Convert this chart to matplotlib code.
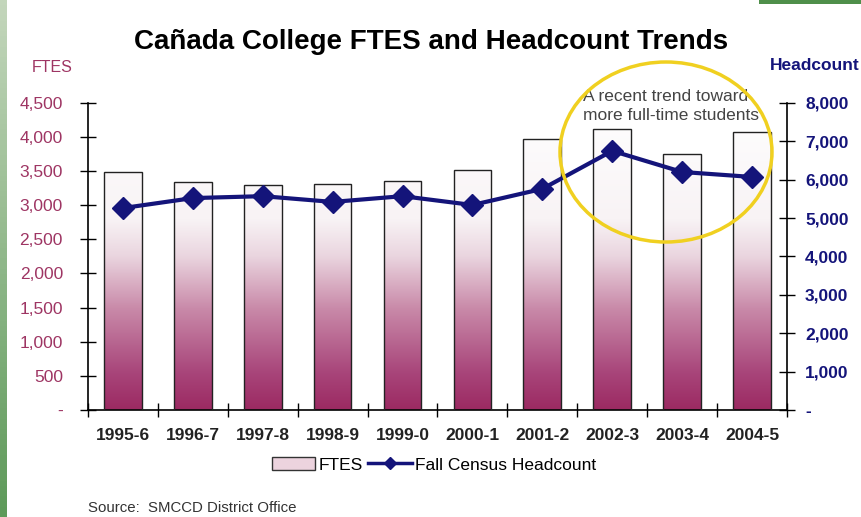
import numpy as np
import matplotlib
matplotlib.use("Agg")
import matplotlib.pyplot as plt
from matplotlib.colors import LinearSegmentedColormap
from matplotlib.patches import Ellipse, Patch
from matplotlib.lines import Line2D
from matplotlib.ticker import FuncFormatter

plt.rcParams["font.family"] = ["Liberation Sans", "DejaVu Sans"]

years = ["1995-6", "1996-7", "1997-8", "1998-9", "1999-0",
         "2000-1", "2001-2", "2002-3", "2003-4", "2004-5"]
ftes = [3480, 3340, 3300, 3310, 3360, 3520, 3970, 4120, 3750, 4070]
headcount = [5260, 5520, 5570, 5420, 5570, 5340, 5760, 6750, 6200, 6070]

maroon = "#9e3563"
navy = "#14147a"
bar_cmap = LinearSegmentedColormap.from_list(
    "bar", [(0, "#9c2a62"), (0.12, "#a8457a"), (0.33, "#c98aa9"),
            (0.5, "#ead5df"), (0.62, "#f8f3f5"), (1, "#ffffff")])

fig = plt.figure(figsize=(8.62, 5.17), dpi=100)
fig.patch.set_facecolor("white")

# green slide border
green = LinearSegmentedColormap.from_list("g", ["#c3d6bb", "#5e9a5a"])
strip = fig.add_axes([0, 0, 0.008, 1])
strip.imshow(np.linspace(0, 1, 100).reshape(-1, 1), aspect="auto", cmap=green)
strip.axis("off")
top = fig.add_axes([0.88, 0.992, 0.12, 0.008])
top.set_facecolor("#4f8f4a")
top.set_xticks([])
top.set_yticks([])
for s in top.spines.values():
    s.set_visible(False)

ax = fig.add_axes([0.102, 0.207, 0.811, 0.594])
x = np.arange(len(years))
bars = ax.bar(x, ftes, width=0.54, facecolor="none", edgecolor="#222222",
              linewidth=1, zorder=3)
grad = np.linspace(0, 1, 256).reshape(-1, 1)
for b in bars:
    x0, w = b.get_x(), b.get_width()
    im = ax.imshow(grad, cmap=bar_cmap, origin="lower", aspect="auto",
                   extent=[x0, x0 + w, 0, 4500], zorder=2)
    im.set_clip_path(b)

ax.set_xlim(-0.5, 9.5)
ax.set_ylim(0, 4500)
ax.set_yticks(np.arange(0, 4501, 500))
ax.yaxis.set_major_formatter(FuncFormatter(lambda v, p: "-" if v == 0 else f"{int(v):,}"))
ax.set_xticks(x)
ax.set_xticklabels(years, fontsize=12.5, fontweight="bold", color="#222222")
ax.set_xticks(np.arange(-0.5, 10, 1), minor=True)
ax.tick_params(axis="x", which="major", length=0, pad=13)
ax.tick_params(axis="x", which="minor", direction="inout", length=10, width=1)
ax.tick_params(axis="y", direction="inout", length=12, width=1,
               labelcolor=maroon, labelsize=12.5, pad=12)
ax.spines["top"].set_visible(False)
ax.spines["right"].set_visible(False)
ax.spines["left"].set_linewidth(1.2)
ax.spines["bottom"].set_linewidth(1.2)
ax.set_facecolor("none")

ax2 = ax.twinx()
ax2.plot(x, headcount, color=navy, linewidth=3, marker="D", markersize=11,
         zorder=5)
ax2.set_ylim(0, 8000)
ax2.set_yticks(np.arange(0, 8001, 1000))
ax2.yaxis.set_major_formatter(FuncFormatter(lambda v, p: "-" if v == 0 else f"{int(v):,}"))
ax2.tick_params(axis="y", direction="inout", length=12, width=1,
                labelcolor=navy, labelsize=12.5, pad=7)
for lab in ax2.get_yticklabels():
    lab.set_fontweight("bold")
ax2.spines["top"].set_visible(False)
ax2.spines["left"].set_visible(False)
ax2.spines["bottom"].set_visible(False)
ax2.spines["right"].set_linewidth(1.2)

fig.text(0.5, 1 - 42 / 517, "Cañada College FTES and Headcount Trends",
         ha="center", va="center", fontsize=20, fontweight="bold")
fig.text(52 / 862, 1 - 67 / 517, "FTES", color=maroon, fontsize=11.5,
         ha="center", va="center")
fig.text(815 / 862, 1 - 66 / 517, "Headcount", color=navy, fontsize=12.5,
         fontweight="bold", ha="center", va="center")

# annotation circle
ell = Ellipse((666 / 862, 1 - 152 / 517), 212 / 862, 180 / 517,
              transform=fig.transFigure, fill=False, edgecolor="#f0d020",
              linewidth=2.5, zorder=10)
fig.add_artist(ell)
fig.text(583 / 862, 1 - 106 / 517, "A recent trend toward\nmore full-time students",
         fontsize=12.5, color="#444444", ha="left", va="center", linespacing=1.35)

handles = [Patch(facecolor="#ecd3de", edgecolor="#333333", linewidth=1),
           Line2D([], [], color=navy, linewidth=2.5, marker="D", markersize=6)]
fig.legend(handles, ["FTES", "Fall Census Headcount"], loc="center",
           bbox_to_anchor=(434 / 862, 1 - 465 / 517), ncol=2, frameon=False,
           fontsize=12.5, handlelength=2.5, columnspacing=0.3, handletextpad=0.2)

fig.text(88 / 862, 1 - 508 / 517, "Source:  SMCCD District Office",
         fontsize=10.8, color="#333333", ha="left", va="center")

fig.savefig("out.png", dpi=100)
